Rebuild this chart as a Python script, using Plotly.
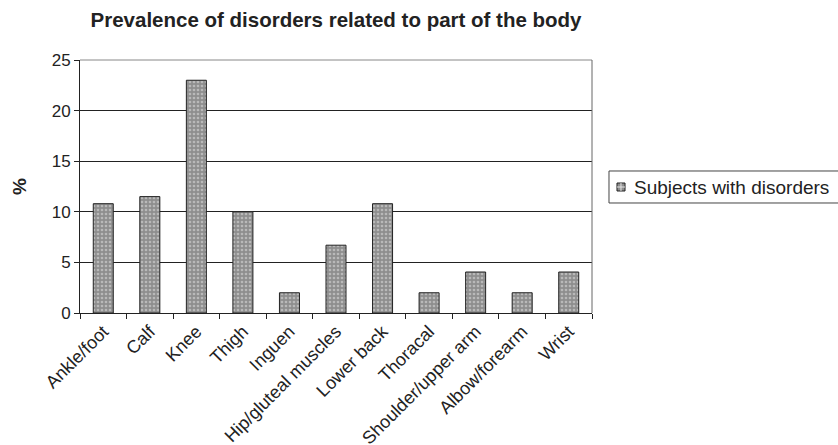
import plotly.graph_objects as go

categories = ["Ankle/foot", "Calf", "Knee", "Thigh", "Inguen", "Hip/gluteal muscles",
              "Lower back", "Thoracal", "Shoulder/upper arm", "Albow/forearm", "Wrist"]
values = [10.8, 11.5, 23.0, 10.0, 2.0, 6.7, 10.8, 2.0, 4.05, 2.0, 4.05]
series_name = "Subjects with disorders"
y_ticks = [0, 5, 10, 15, 20, 25]

BAR_FILL = "#8e8e8e"
DOT = "#e4e4e4"
EDGE = "#222222"

fig = go.Figure()
fig.add_trace(go.Bar(
    x=categories, y=values, name=series_name, width=0.43,
    marker=dict(color=BAR_FILL, line=dict(color=EDGE, width=1),
                pattern=dict(shape=".", fgcolor=DOT, bgcolor=BAR_FILL, size=4, solidity=0.35)),
    showlegend=False,
))

fig.update_layout(
    width=838, height=445,
    margin=dict(l=80, r=246, t=60, b=132, autoexpand=False),
    paper_bgcolor="white", plot_bgcolor="white",
    font=dict(family="Liberation Sans, Arial, sans-serif", color="#222222", size=17),
    title=dict(text="<b>Prevalence of disorders related to part of the body</b>",
               x=0.401, xanchor="center", y=0.955, yanchor="middle",
               font=dict(size=20.5, color="#222222")),
    showlegend=False,
    xaxis=dict(type="category", tickangle=-45, tickson="boundaries", ticks="outside",
               ticklen=5, tickcolor="#222222", showline=True, linecolor="#222222", linewidth=1,
               tickfont=dict(size=18), showgrid=False, automargin=False),
    yaxis=dict(range=[0, 25], tickvals=y_ticks, ticks="outside", ticklen=5,
               tickcolor="#222222", showline=True, linecolor="#222222", linewidth=1,
               showgrid=True, gridcolor="#222222", gridwidth=1, tickfont=dict(size=17),
               title=dict(text="<b>%</b>", font=dict(size=19), standoff=20),
               zeroline=False, automargin=False),
)

# grey frame top and right
fig.add_shape(type="line", xref="paper", yref="paper", x0=0, x1=1, y0=1, y1=1,
              line=dict(color="#888888", width=1))
fig.add_shape(type="line", xref="paper", yref="paper", x0=1, x1=1, y0=0, y1=1,
              line=dict(color="#666666", width=1))

# legend box (drawn manually to match the reference's compact layout)
fig.add_shape(type="rect", xref="paper", yref="paper", x0=1.0332, x1=1.50, y0=0.4348, y1=0.5613,
              line=dict(color="#444444", width=1), fillcolor="white", layer="below")
fig.add_shape(type="rect", xref="paper", yref="paper", x0=1.0488, x1=1.0645, y0=0.4822, y1=0.5138,
              line=dict(color=EDGE, width=1), fillcolor=BAR_FILL)
fig.add_shape(type="line", xref="paper", yref="paper", x0=1.0566, x1=1.0566, y0=0.4822, y1=0.5138,
              line=dict(color=DOT, width=1))
fig.add_shape(type="line", xref="paper", yref="paper", x0=1.0488, x1=1.0645, y0=0.498, y1=0.498,
              line=dict(color=DOT, width=1))
fig.add_annotation(text=series_name, xref="paper", yref="paper", x=1.078, y=0.498,
                   xanchor="left", yanchor="middle", showarrow=False,
                   font=dict(size=19, color="#222222"))

fig.write_html("out.html", config={"displayModeBar": False},
               post_script="document.body.style.margin='0';document.body.style.overflow='hidden';")
